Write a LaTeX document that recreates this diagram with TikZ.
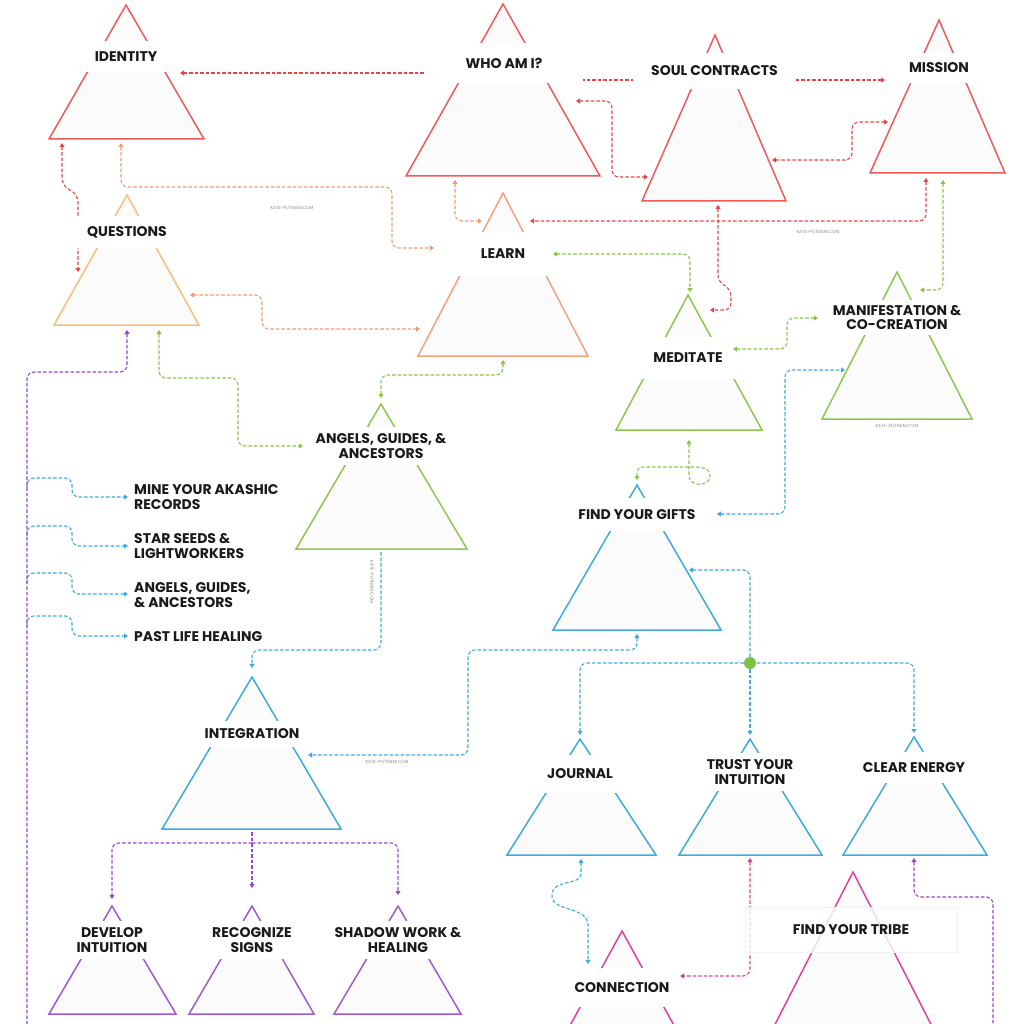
\documentclass[tikz,border=0pt]{standalone}
\usepackage{fontspec}
\setmainfont{Poppins}
\usetikzlibrary{arrows.meta}
\definecolor{cred}{HTML}{EE5A5A}
\definecolor{credc}{HTML}{E84444}
\definecolor{cq}{HTML}{F7BF7A}
\definecolor{clearn}{HTML}{F5A27C}
\definecolor{corc}{HTML}{F39A6E}
\definecolor{cgreen}{HTML}{8CC850}
\definecolor{cgreenc}{HTML}{86C846}
\definecolor{cblue}{HTML}{3DAAE0}
\definecolor{cpurple}{HTML}{A05AD2}
\definecolor{cpurc}{HTML}{9646D2}
\definecolor{cpink}{HTML}{E0409A}
\definecolor{cdot}{HTML}{7DC242}
\definecolor{ctxt}{HTML}{1A1A1A}
\definecolor{tfill}{HTML}{FBFBFB}
\begin{document}
\begin{tikzpicture}[x=1pt,y=-1pt,
 tri/.style={draw=#1, fill=tfill, line width=1.5pt, line join=miter},
 lab/.style={fill=white, inner sep=0pt, align=center, text=ctxt, font=\bfseries\fontsize{14}{14.5}\selectfont},
 sidelab/.style={inner sep=0pt, align=left, anchor=west, text=ctxt, font=\bfseries\fontsize{14}{14.5}\selectfont},
 conn/.style={draw=#1, line width=1.1pt, dash pattern=on 3.5pt off 2pt, rounded corners=7pt},
 both/.style={{Triangle[length=4pt,width=5pt]}-{Triangle[length=4pt,width=5pt]}},
 fwd/.style={-{Triangle[length=4pt,width=5pt]}},
 bwd/.style={{Triangle[length=4pt,width=5pt]}-},
 wm/.style={text=black!45, font=\fontsize{4.5}{5}\selectfont, inner sep=0pt}
]
\useasboundingbox[fill=white] (0,0) rectangle (1024,1024);

% ---------- triangles ----------
\draw[tri=cred] (126,5) -- (49,139) -- (204,139) -- cycle;
\draw[tri=cred] (503,4) -- (406,176) -- (600,176) -- cycle;
\draw[tri=cred] (715,35) -- (642,201) -- (786,201) -- cycle;
\draw[tri=cred] (939,20) -- (870,173) -- (1005,173) -- cycle;
\draw[tri=cq] (127,195) -- (54,325) -- (199,325) -- cycle;
\draw[tri=clearn] (503,193) -- (418,356) -- (588,356) -- cycle;
\draw[tri=cgreen] (688,295) -- (616,430) -- (762,430) -- cycle;
\draw[tri=cgreen] (897,272) -- (822,419) -- (972,419) -- cycle;
\draw[tri=cgreen] (381,404) -- (296,549) -- (467,549) -- cycle;
\draw[tri=cblue] (637,485) -- (553,630) -- (721,630) -- cycle;
\draw[tri=cblue] (252,677) -- (162,829) -- (341,829) -- cycle;
\draw[tri=cpurple] (112,906) -- (49,1014) -- (176,1014) -- cycle;
\draw[tri=cpurple] (252,906) -- (189,1014) -- (314,1014) -- cycle;
\draw[tri=cpurple] (398,906) -- (334,1014) -- (461,1014) -- cycle;
\draw[tri=cblue] (580,739) -- (507,855) -- (656,855) -- cycle;
\draw[tri=cblue] (750,739) -- (679,855) -- (822,855) -- cycle;
\draw[tri=cblue] (914,737) -- (843,855) -- (987,855) -- cycle;
\draw[tri=cpink] (853,872) -- (767,1040) -- (939,1040) -- cycle;
\draw[tri=cpink] (622,931) -- (551,1060) -- (693,1060) -- cycle;

% ---------- connectors passing behind labels ----------
\draw[conn=credc, fwd] (440,73) -- (180,73);
\draw[conn=credc, fwd] (570,80) -- (885,80);
\draw[conn=credc, both] (62,143) -- (62,185) -- (78,195) -- (78,272);
\draw[conn=cpink, both] (750,858) -- (750,976) -- (680,976);

% ---------- labels ----------
\node[lab, minimum width=90, minimum height=31] (identity) at (126,56.5) {IDENTITY};
\node[lab, minimum width=158, minimum height=40] (who) at (504,63) {WHO AM I?};
\node[lab, minimum width=163, minimum height=36] (soul) at (714.5,71) {SOUL CONTRACTS};
\node[lab, minimum width=90, minimum height=30] (mission) at (939,68) {MISSION};
\node[lab, minimum width=104, minimum height=32] (questions) at (127,232) {QUESTIONS};
\node[lab, minimum width=100, minimum height=44] (learn) at (503,254) {LEARN};
\node[lab, minimum width=96, minimum height=42] (meditate) at (688,358) {MEDITATE};
\node[lab, minimum width=136, minimum height=35] (manif) at (897,317.5) {MANIFESTATION \&\\CO-CREATION};
\node[lab, minimum width=140, minimum height=38] (angels) at (381,446) {ANGELS, GUIDES, \&\\ANCESTORS};
\node[lab, minimum width=134, minimum height=33] (gifts) at (637,514.5) {FIND YOUR GIFTS};
\node[lab, minimum width=110, minimum height=26] (integ) at (252,734) {INTEGRATION};
\node[lab, minimum width=84, minimum height=38] (develop) at (112,940) {DEVELOP\\INTUITION};
\node[lab, minimum width=90, minimum height=38] (recog) at (252,940) {RECOGNIZE\\SIGNS};
\node[lab, minimum width=128, minimum height=38] (shadow) at (398,940) {SHADOW WORK \&\\HEALING};
\node[lab, minimum width=80, minimum height=38] (journal) at (580,774) {JOURNAL};
\node[lab, minimum width=96, minimum height=38] (trust) at (750,772) {TRUST YOUR\\INTUITION};
\node[lab, minimum width=114, minimum height=31] (clear) at (914,767.5) {CLEAR ENERGY};
\node[lab, minimum width=212, minimum height=45, fill opacity=0.8, text opacity=1, draw=black!5] (tribe) at (851,929.5) {FIND YOUR TRIBE};
\node[lab, minimum width=106, minimum height=39] (connection) at (622,987.5) {CONNECTION};

\node[sidelab] (akashic) at (134,497) {MINE YOUR AKASHIC\\RECORDS};
\node[sidelab] (star) at (134,546) {STAR SEEDS \&\\LIGHTWORKERS};
\node[sidelab] (angels2) at (134,595) {ANGELS, GUIDES,\\\& ANCESTORS};
\node[sidelab] (past) at (134,637) {PAST LIFE HEALING};

% ---------- other connectors ----------
% red
\draw[conn=credc, both] (576,101) -- (612,101) -- (612,177) -- (648,177);
\draw[conn=credc, both] (772,160) -- (852,160) -- (852,122) -- (888,122);
\draw[conn=credc, both] (926,178) -- (926,221) -- (530,221);
\draw[conn=credc, both] (718,205) -- (718,282) -- (731,289) -- (731,310) -- (710,310);
% orange
\draw[conn=corc, both] (121,143) -- (121,187) -- (392,187) -- (392,248) -- (434,248);
\draw[conn=corc, both] (455,180) -- (455,221) -- (482,221);
\draw[conn=corc, both] (190,295) -- (262,295) -- (262,329) -- (420,329);
% green
\draw[conn=cgreenc, both] (553,254) -- (690,254) -- (690,292);
\draw[conn=cgreenc, both] (943,180) -- (943,290) -- (920,290);
\draw[conn=cgreenc, both] (733,349) -- (787,349) -- (787,318) -- (818,318);
\draw[conn=cgreenc, both] (159,330) -- (159,378) -- (238,378) -- (238,446) -- (303,446);
\draw[conn=cgreenc, both] (503,360) -- (503,375) -- (381,375) -- (381,398);
\draw[conn=cgreenc, both, rounded corners=0pt] (689,440) -- (689,476) .. controls (689,487) and (710,487) .. (710,476) .. controls (710,468) and (702,467) .. (692,467) -- (644,467) .. controls (639,467) and (637,469) .. (637,474) -- (637,480);
% blue
\draw[conn=cblue, both] (717,514) -- (785,514) -- (785,370) -- (845,370);
\draw[conn=cblue, bwd] (689,570) -- (750,570) -- (750,663);
\draw[conn=cblue, both] (580,735) -- (580,663) -- (914,663) -- (914,733);
\draw[conn=cblue, fwd] (750,669) -- (750,735);
\draw[conn=cblue, both] (637,634) -- (637,650) -- (468,650) -- (468,755) -- (308,755);
\draw[conn=cblue, fwd] (381,552) -- (381,650) -- (252,650) -- (252,668);
\draw[conn=cblue, both, rounded corners=0pt] (581,859) -- (581,874) .. controls (581,886) and (552,878) .. (552,896) .. controls (552,912) and (588,906) .. (588,925) -- (588,964);
\draw[conn=cblue, fwd] (27,488) -- (27,478) -- (72,478) -- (72,497) -- (128,497);
\draw[conn=cblue, fwd] (27,536) -- (27,526) -- (72,526) -- (72,546) -- (128,546);
\draw[conn=cblue, fwd] (27,583) -- (27,573) -- (72,573) -- (72,594) -- (128,594);
\draw[conn=cblue, fwd] (27,626) -- (27,616) -- (72,616) -- (72,636) -- (128,636);
% purple
\draw[conn=cpurc, bwd] (127,330) -- (127,372) -- (27,372) -- (27,1040);
\draw[conn=cpurc, fwd] (252,832) -- (252,888);
\draw[conn=cpurc, fwd] (252,843) -- (112,843) -- (112,899);
\draw[conn=cpurc, fwd] (252,843) -- (398,843) -- (398,895);
\draw[conn=cpurc, bwd] (914,858) -- (914,897) -- (993,897) -- (993,1040);

\fill[cdot] (750,663) circle (6);

% watermarks
\node[wm] (wm1) at (292,208) {KATE-PUTNAM.COM};
\node[wm] (wm2) at (818,232) {KATE-PUTNAM.COM};
\node[wm] (wm3) at (897,426) {KATE-PUTNAM.COM};
\node[wm] (wm4) at (387,762) {KATE-PUTNAM.COM};
\node[wm, rotate=-90] (wm5) at (372,582) {KATE-PUTNAM.COM};
\end{tikzpicture}
\end{document}
